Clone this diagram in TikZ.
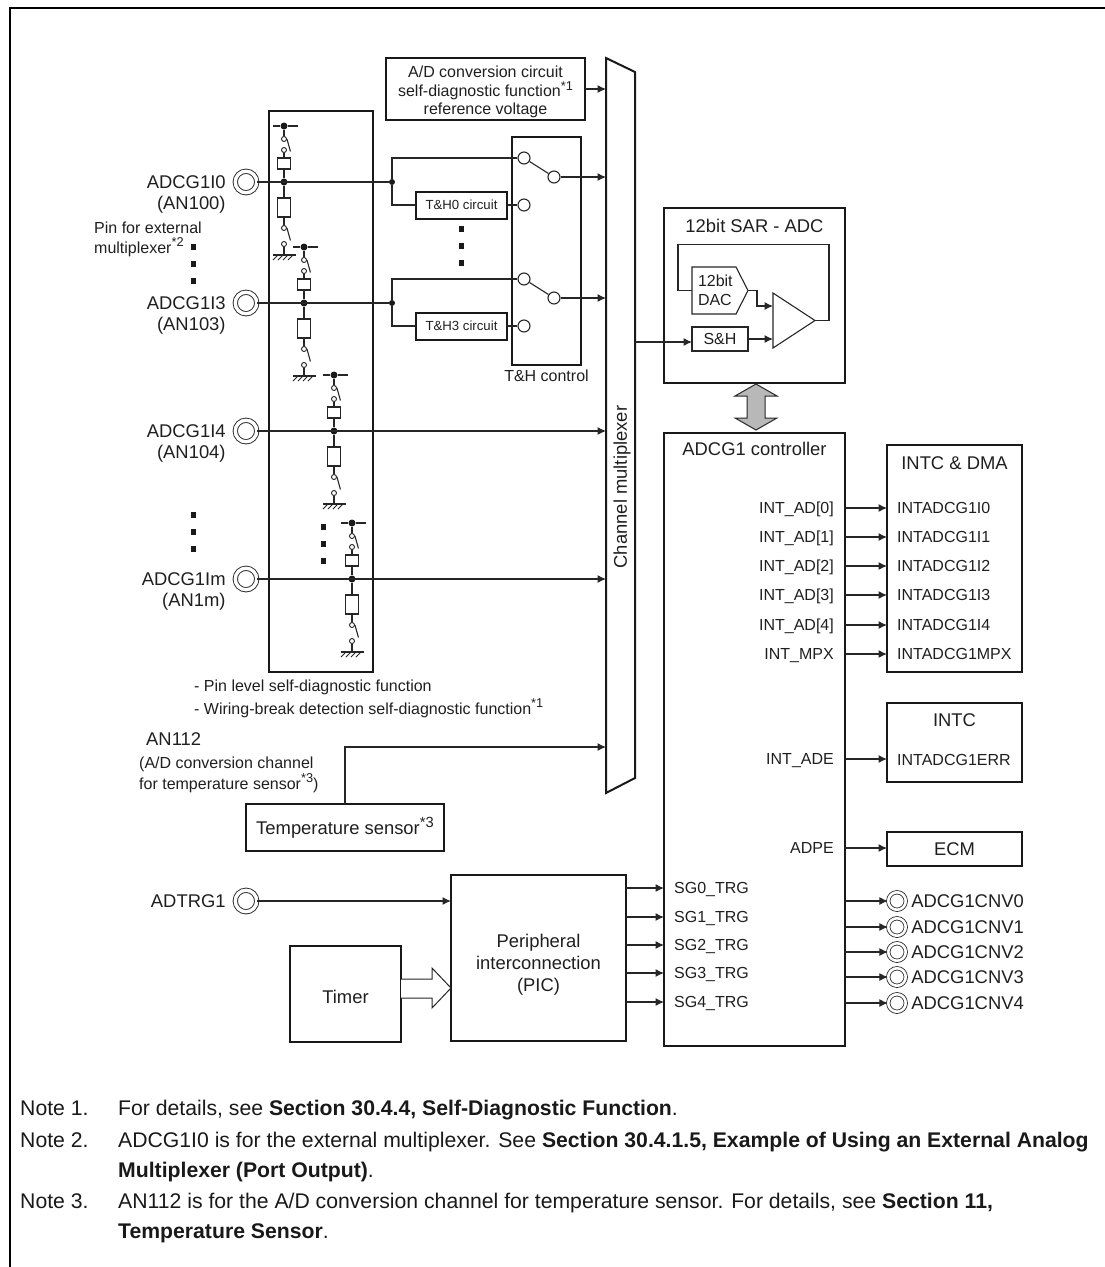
\documentclass[tikz,border=0pt]{standalone}
\usepackage{fontspec}
\setmainfont{Liberation Sans}
\usetikzlibrary{arrows.meta,positioning,calc}
\newcommand{\noteref}[1]{\raisebox{.38em}{\scalebox{.8}{*#1}}}
\begin{document}
\begin{tikzpicture}[x=1pt,y=-1pt,>={Latex[length=8.5pt,width=8pt]},
 lg/.style={font=\fontsize{18.4}{21}\selectfont,text=black!88,inner sep=0pt},
 md/.style={font=\fontsize{16}{18.5}\selectfont,text=black!88,inner sep=0pt},
 sm/.style={font=\fontsize{13.2}{16}\selectfont,text=black!88,inner sep=0pt},
 rowlabel/.style={md,text height=11.4pt,text depth=0pt},
 notetext/.style={font=\fontsize{21.2}{26}\selectfont,text=black!90,inner sep=0pt,anchor=base west},
 box/.style={draw=black!90,line width=2pt,align=center,inner sep=0pt,outer sep=0pt},
 thinbox/.style={draw=black!85,line width=1.1pt,inner sep=0pt,outer sep=0pt},
 wire/.style={draw=black!85,line width=1.1pt},
 arrow/.style={wire,->},
 pinring/.style={circle,draw=black!85,double,double distance=3.4pt,line width=.9pt,minimum size=21.5pt,inner sep=0pt},
 cnvring/.style={circle,draw=black!85,double,double distance=2.6pt,line width=.8pt,minimum size=17.5pt,inner sep=0pt},
 tiny/.style={circle,draw=black!85,fill=white,line width=.9pt,minimum size=5pt,inner sep=0pt},
 dotnode/.style={circle,fill=black!90,minimum size=7pt,inner sep=0pt},
 swring/.style={circle,draw=black!85,fill=white,line width=1.1pt,minimum size=12pt,inner sep=0pt},
 dotsq/.style={fill=black!90,minimum width=5pt,minimum height=6pt,inner sep=0pt}]
\useasboundingbox (0,0) rectangle (1105,1267);
\draw[line width=2pt,black] (1105,7.5) -- (9.5,7.5) -- (9.5,1267);

% pin block and its four channels
\node[box,minimum width=104pt,minimum height=561pt] (pinblock) at (321,391.5) {};
\foreach \n/\x/\t/\tag/\sub in {0/284/126/ADCG1I0/AN100,1/304/247/ADCG1I3/AN103,2/334/375/ADCG1I4/AN104,3/352/523/ADCG1Im/AN1m}{
 \node[pinring] (pin\n) at (246,\t+56) {};
 \node[lg,left=7pt of pin\n,xshift=-2pt] (tag\n) {\tag};
 \node[lg,anchor=base east] (sub\n) at ($(tag\n.base east)+(0,21)$) {(\sub)};
 \node[dotnode] (rail\n) at (\x,\t) {};
 \node[tiny] (swa\n) at (\x,\t+13) {};
 \node[tiny] (swb\n) at (\x,\t+24) {};
 \node[thinbox,fill=white,minimum width=13pt,minimum height=11pt] (rs\n) at (\x,\t+37.5) {};
 \node[dotnode] (tap\n) at (\x,\t+56) {};
 \node[thinbox,fill=white,minimum width=13pt,minimum height=19pt] (rl\n) at (\x,\t+81.5) {};
 \node[tiny] (swc\n) at (\x,\t+102) {};
 \node[tiny] (swd\n) at (\x,\t+118) {};
 \coordinate (gnd\n) at (\x,\t+129);
 \draw[wire] (\x-11,\t) -- (rail\n) -- (\x+14,\t);
 \draw[wire] (rail\n) -- (swa\n);
 \draw[wire] (swb\n) -- (rs\n);
 \draw[wire] (rs\n) -- (tap\n);
 \draw[wire] (tap\n) -- (rl\n);
 \draw[wire] (rl\n) -- (swc\n);
 \draw[wire] (swd\n) -- (gnd\n);
 \draw[wire] (swa\n.east) -- ++(3.5,12.5);
 \draw[wire] (swc\n.east) -- ++(3.5,12.5);
 \draw[wire] ($(gnd\n)+(-11,0)$) -- ($(gnd\n)+(12,0)$);
 \foreach \h in {-6,-1,4,9}
  \draw[wire,line width=.8pt] ($(gnd\n)+(\h,0)$) -- ++(-5,5);
}
\foreach \x/\y in {193/247,193/264,193/281,193/515,193/532,193/549,323/527,323/544,323/561,461/229,461/246,461/263}
 \node[dotsq] at (\x,\y) {};
\node[md,anchor=base west] (extpin) at (94,233) {Pin for external};
\node[md,anchor=base west] at ($(extpin.base west)+(0,20)$) {multiplexer\noteref{2}};

% channel multiplexer
\node[minimum width=29pt,minimum height=735pt,inner sep=0pt,outer sep=0pt] (mux) at (620.5,425.5) {};
\draw[line width=2pt,draw=black!90] (mux.north west) -- ($(mux.north east)+(0,14)$) -- ($(mux.south east)+(0,-15)$) -- (mux.south west) -- cycle;
\node[lg,rotate=90] (muxtext) at (622,487) {Channel multiplexer};

\node[box,minimum width=199pt,minimum height=62pt] (refbox) at (485.5,89) {};
\node[md,align=center,below=8pt of refbox.north] (reftext) {A/D conversion circuit\\self-diagnostic function\noteref{1}\\reference voltage};
\draw[arrow] (refbox) -- (refbox -| mux.west);

% track and hold
\node[box,minimum width=69pt,minimum height=228pt] (thctl) at (546.5,251) {};
\node[md,below=5pt of thctl] (thtext) {T\&H control};
\foreach \n/\y/\id in {0/182/0,1/303/3}{
 \node[dotnode,minimum size=6pt] (jn\n) at (392,\y) {};
 \node[swring] (swin\n) at (524,\y-24) {};
 \node[swring] (swout\n) at (554,\y-5) {};
 \node[box,sm,minimum width=91pt,minimum height=27pt] (th\n) at (461.5,\y+23) {T\&H\id{} circuit};
 \node[swring] (swth\n) at (524,\y+23) {};
 \draw[wire] (pin\n) -- (jn\n);
 \draw[wire] (jn\n) |- (swin\n);
 \draw[wire] (jn\n) |- (th\n);
 \draw[wire] (th\n) -- (swth\n);
 \draw[wire] (swin\n) -- (swout\n);
 \draw[arrow] (swout\n) -- (swout\n -| mux.west);
}
\draw[arrow] (pin2) -- (pin2 -| mux.west);
\draw[arrow] (pin3) -- (pin3 -| mux.west);

% SAR ADC
\node[box,minimum width=181pt,minimum height=175pt] (sar) at (754.5,295.5) {};
\node[lg,below=11pt of sar.north] (sartext) {12bit SAR - ADC};
\node[md,align=left,text width=44pt,inner xsep=6pt,minimum height=47pt,outer sep=0pt] (dac) at (720,290.5) {12bit\\DAC};
\draw[wire] (dac.north west) -- ($(dac.north east)+(-12,0)$) -- (dac.east) -- ($(dac.south east)+(-12,0)$) -- (dac.south west) -- cycle;
\node[thinbox,lg,minimum width=56pt,minimum height=24pt,font=\fontsize{16}{18}\selectfont] (sh) at (720,339) {S\&H};
\node[minimum width=42pt,minimum height=55pt,inner sep=0pt,outer sep=0pt] (amp) at (794,320.5) {};
\draw[wire] (amp.north west) -- (amp.east) -- (amp.south west) -- cycle;
\coordinate (ampin) at ($(amp.west)+(0,-14.5)$);
\draw[arrow] (dac.east) -- ++(9,0) |- (ampin);
\draw[arrow] (sh) -- (sh -| amp.west);
\draw[arrow] ($(sh -| mux.east)+(0,3)$) -- ($(sh.west)+(0,3)$);
\draw[wire] (amp.east) -- ++(14,0) -- ++(0,-76) -- ++(-151,0) |- (dac.west);
\node[minimum width=42pt,minimum height=46pt,inner sep=0pt,outer sep=0pt] (busarrow) at (756,407) {};
\draw[draw=black!85,fill=black!28,line width=1pt] (busarrow.north) -- ++(21,12) -- ++(-12,0) -- ++(0,22) -- ++(12,0) -- (busarrow.south) -- ++(-21,-12) -- ++(12,0) -- ++(0,-22) -- ++(-12,0) -- cycle;

% controller
\node[box,minimum width=181pt,minimum height=613pt] (ctl) at (754.5,739.5) {};
\node[lg,below=9pt of ctl.north] (ctltext) {ADCG1 controller};
\node[box,minimum width=135pt,minimum height=227pt] (dma) at (954.5,558.5) {};
\node[lg,below=11pt of dma.north] (dmatext) {INTC \& DMA};
\foreach \n/\y/\src/\dst in {0/508/INT\_AD[0]/INTADCG1I0,1/537/INT\_AD[1]/INTADCG1I1,2/566/INT\_AD[2]/INTADCG1I2,3/595/INT\_AD[3]/INTADCG1I3,4/625/INT\_AD[4]/INTADCG1I4,5/654/INT\_MPX/INTADCG1MPX}{
 \node[rowlabel,anchor=east] (src\n) at (834,\y) {\src};
 \node[rowlabel,anchor=west] (dst\n) at (897,\y) {\dst};
 \draw[arrow] (ctl.east |- src\n) -- (dma.west |- src\n);
}
\node[box,minimum width=135pt,minimum height=79pt] (intc) at (954.5,742.5) {};
\node[lg,below=10pt of intc.north] (intctext) {INTC};
\node[rowlabel,anchor=west] (errdst) at (897,760) {INTADCG1ERR};
\node[rowlabel,anchor=east] (errsrc) at (834,759) {INT\_ADE};
\draw[arrow] (ctl.east |- errsrc) -- (intc.west |- errsrc);
\node[box,lg,minimum width=135pt,minimum height=34pt] (ecm) at (954.5,849) {ECM};
\node[rowlabel,anchor=east] (adpe) at (834,848) {ADPE};
\draw[arrow] (ctl.east |- adpe) -- (ecm.west |- adpe);
\foreach \n/\y in {0/901,1/927,2/952,3/977,4/1003}{
 \node[cnvring] (cnv\n) at (897,\y) {};
 \node[lg,right=5pt of cnv\n] (cnvtext\n) {ADCG1CNV\n};
 \draw[arrow] (ctl.east |- cnv\n) -- (cnv\n);
}

% temperature sensor
\node[lg,anchor=base west] (antag) at (146,745) {AN112};
\node[md,anchor=base west] (anline) at (139,768) {(A/D conversion channel};
\node[md,anchor=base west] at (139,789) {for temperature sensor\noteref{3})};
\node[box,lg,minimum width=198pt,minimum height=47pt] (tsense) at (345,827.5) {Temperature sensor\noteref{3}};
\draw[arrow] (tsense.north) |- ($(mux.west)+(0,321.5)$);
\node[md,anchor=base west] (diag1) at (194,691) {- Pin level self-diagnostic function};
\node[md,anchor=base west] at (194,714) {- Wiring-break detection self-diagnostic function\noteref{1}};

% trigger path
\node[pinring] (trgpin) at (246,901) {};
\node[lg,left=7pt of trgpin,xshift=-2pt] (trgtext) {ADTRG1};
\node[box,minimum width=175pt,minimum height=166pt] (pic) at (538.5,958) {};
\node[lg,align=center,font=\fontsize{18.4}{22}\selectfont] (pictext) at ($(pic)+(0,7)$) {Peripheral\\interconnection\\(PIC)};
\node[box,lg,minimum width=111pt,minimum height=96pt,text height=19pt,text depth=0pt] (timer) at (345.5,994) {Timer};
\draw[arrow] (trgpin) -- (trgpin -| pic.west);
\draw[draw=black!85,fill=white,line width=1pt] ($(timer.east)+(0,-15)$) -- ++(31,0) -- ++(0,-11) -- ($(pic.west)+(0,30)$) -- ++(-19,20) -- ++(0,-10) -- ($(timer.east)+(0,4)$);
\foreach \n/\y in {0/888,1/917,2/945,3/973,4/1002}{
 \node[rowlabel,anchor=west] (sg\n) at (674,\y) {SG\n\_TRG};
 \draw[arrow] (pic.east |- sg\n) -- (ctl.west |- sg\n);
}

% notes
\node[notetext] (n1) at (20,1115) {Note 1.};
\node[notetext] at (118,1115) {For details, see \textbf{Section 30.4.4, Self-Diagnostic Function}.};
\node[notetext] (n2) at (20,1147) {Note 2.};
\node[notetext] at (118,1147) {ADCG1I0 is for the external multiplexer. See \textbf{Section 30.4.1.5, Example of Using an External Analog}};
\node[notetext] at (118,1177) {\textbf{Multiplexer (Port Output)}.};
\node[notetext] (n3) at (20,1208) {Note 3.};
\node[notetext] at (118,1208) {AN112 is for the A/D conversion channel for temperature sensor. For details, see \textbf{Section 11,}};
\node[notetext] at (118,1238) {\textbf{Temperature Sensor}.};
\end{tikzpicture}
\end{document}
